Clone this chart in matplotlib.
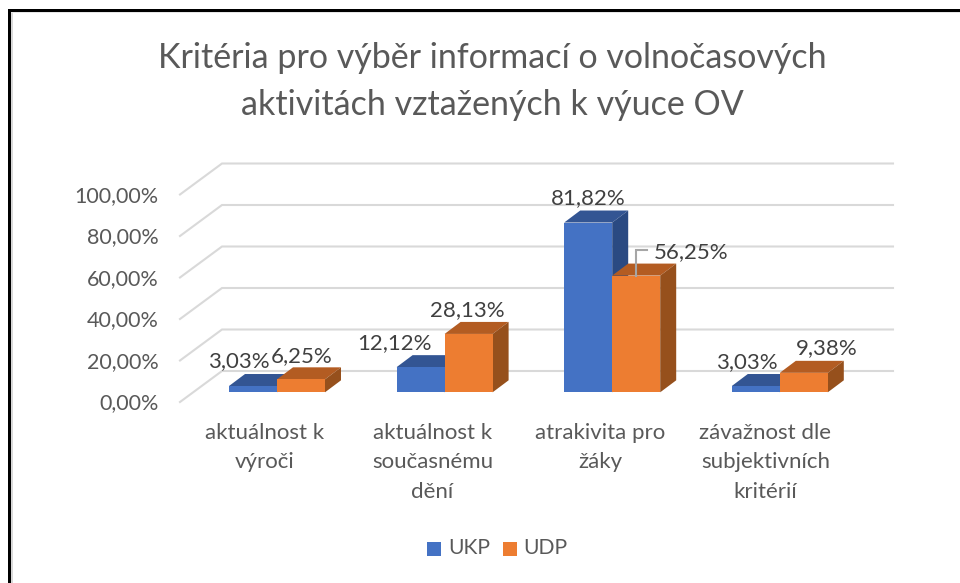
import matplotlib
matplotlib.use("Agg")
import matplotlib.pyplot as plt
from matplotlib.patches import Polygon, Rectangle

categories = ["aktuálnost k\nvýroči", "aktuálnost k\nsoučasnému\ndění",
              "atrakivita pro\nžáky", "závažnost dle\nsubjektivních\nkritérií"]
ukp = [3.03, 12.12, 81.82, 3.03]
udp = [6.25, 28.13, 56.25, 9.38]
ukp_labels = ["3,03%", "12,12%", "81,82%", "3,03%"]
udp_labels = ["6,25%", "28,13%", "56,25%", "9,38%"]
ticks = [0, 20, 40, 60, 80, 100]
tick_labels = ["0,00%", "20,00%", "40,00%", "60,00%", "80,00%", "100,00%"]

W, H = 960, 583
# pixel mapping of the bar plane
X0, DX = 277, 167.6
Y0, DY = 392.3, 2.075


def px_x(p):
    return (p - X0) / DX


def px_y(p):
    return (Y0 - p) / DY


plt.rcParams["font.family"] = ["Lato", "DejaVu Sans"]
fig = plt.figure(figsize=(W / 100, H / 100), dpi=100)
ax = fig.add_axes([0, 0, 1, 1])
ax.set_xlim(px_x(0), px_x(W))
ax.set_ylim(px_y(H), px_y(0))
ax.axis("off")

# black frame of the screenshot, with its faint grey shadow
ax.add_patch(Rectangle((11 / W, 0), 1.5 / W, 1 - 12 / H, transform=ax.transAxes, color="#d9d9d9", lw=0))
ax.add_patch(Rectangle((11 / W, 1 - 13 / H), 1 - 11 / W, 1 / H, transform=ax.transAxes, color="#e6e6e6", lw=0))
ax.add_patch(Rectangle((8 / W, 0), 3 / W, 1 - 9 / H, transform=ax.transAxes, color="black", lw=0))
ax.add_patch(Rectangle((8 / W, 1 - 12 / H), 1 - 8 / W, 3 / H, transform=ax.transAxes, color="black", lw=0))

# depth of the bars and of the floor
bar_w = 48 / DX
dep_x, dep_y = 16 / DX, 12 / DY
floor_left = px_x(180)
wall_left = px_x(222)
wall_right = px_x(893)
floor_dy = 9.7 / DY
wall_dy = 21.3 / DY

grid_color = "#d9d9d9"
for t, lab in zip(ticks, tick_labels):
    ax.plot([floor_left, wall_left, wall_right], [t - floor_dy, t + wall_dy, t + wall_dy],
            color=grid_color, lw=1.5, solid_joinstyle="miter", zorder=1)
    ax.text(px_x(158.5), t - floor_dy - 0.6, lab, ha="right", va="center", color="#595959", fontsize=15.5)


def bar3d(x, h, front, top, side):
    l, r = x, x + bar_w
    ax.add_patch(Polygon([(l, h), (r, h), (r + dep_x, h + dep_y), (l + dep_x, h + dep_y)], color=top, lw=0, zorder=3))
    ax.add_patch(Polygon([(r, 0), (r + dep_x, dep_y), (r + dep_x, h + dep_y), (r, h)], color=side, lw=0, zorder=3))
    ax.add_patch(Rectangle((l, 0), bar_w, h, color=front, lw=0, zorder=4))


label_shift = [12, 12, 12, 14.5]
for i in range(len(categories)):
    bar3d(i - bar_w, ukp[i], "#4472c4", "#335593", "#2a4a82")
    bar3d(i, udp[i], "#ed7d31", "#b35c22", "#96501c")
    ax.text(i - label_shift[i] / DX, px_y(423), categories[i], ha="center", va="top",
            color="#595959", fontsize=16, linespacing=1.58)

# data labels, moved by hand in the original chart
ukp_pos = [(239, 361), (394, 343), (588, 198), (746.5, 362)]
udp_pos = [(301.5, 356), (467, 310), (691.5, 252), (827, 348)]
for (px, py), lab in zip(ukp_pos, ukp_labels):
    ax.text(px_x(px), px_y(py), lab, ha="center", va="center", color="#404040", fontsize=16, zorder=6)
for (px, py), lab in zip(udp_pos, udp_labels):
    ax.text(px_x(px), px_y(py), lab, ha="center", va="center", color="#404040", fontsize=16, zorder=6)

# leader line of the 56,25% label
ax.plot([2 + bar_w / 2, 2 + bar_w / 2, px_x(647)], [udp[2], px_y(249.5), px_y(249.5)], color="#a6a6a6", lw=1.5,
        zorder=5, solid_joinstyle="miter")

ax.text(px_x(492), px_y(81.5), "Kritéria pro výběr informací o volnočasových\naktivitách vztažených k výuce OV",
        ha="center", va="center", color="#595959", fontsize=24.5, linespacing=1.55)

# legend
ax.add_patch(Rectangle((px_x(427), px_y(555.5)), 13.5 / DX, 13.5 / DY, color="#4472c4", lw=0))
ax.add_patch(Rectangle((px_x(503), px_y(555.5)), 13.5 / DX, 13.5 / DY, color="#ed7d31", lw=0))
ax.text(px_x(448), px_y(548), "UKP", ha="left", va="center", color="#595959", fontsize=15.2)
ax.text(px_x(523), px_y(548), "UDP", ha="left", va="center", color="#595959", fontsize=15.2)

fig.savefig("out.png", dpi=100, facecolor="white")
